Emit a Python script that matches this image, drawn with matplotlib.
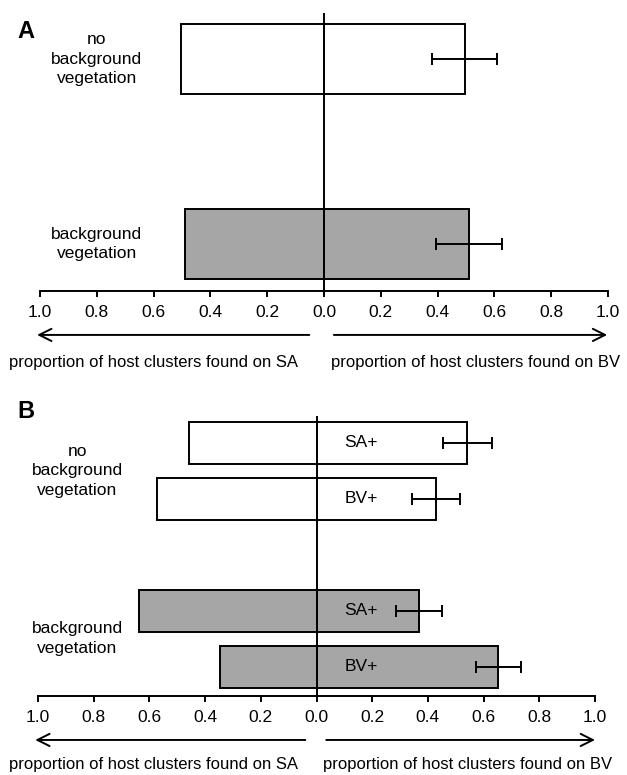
import numpy as np
import matplotlib

matplotlib.use("Agg")
import matplotlib.pyplot as plt

plt.rcParams["font.family"] = ["Liberation Sans", "DejaVu Sans"]

# panel A: proportion of host clusters on SA (left) / BV (right)
A_GROUPS = ["no\nbackground\nvegetation", "background\nvegetation"]
A_SA = [0.505, 0.49]
A_BV = [0.495, 0.51]
A_ERR = [0.115, 0.115]
A_FILL = ["white", "#a6a6a6"]

# panel B: split by SA+ / BV+ treatment
B_GROUPS = ["no\nbackground\nvegetation", "background\nvegetation"]
B_TREAT = ["SA+", "BV+", "SA+", "BV+"]
B_SA = [0.458, 0.572, 0.637, 0.348]
B_BV = [0.542, 0.43, 0.367, 0.653]
B_ERR = [0.088, 0.087, 0.083, 0.08]
B_FILL = ["white", "white", "#a6a6a6", "#a6a6a6"]

TICKS = np.arange(-1.0, 1.01, 0.2)
TICK_LABELS = [f"{abs(t):.1f}" for t in TICKS]
LEFT_LABEL = "proportion of host clusters found on SA"
RIGHT_LABEL = "proportion of host clusters found on BV"

W, H = 627, 775
fig = plt.figure(figsize=(W / 100, H / 100), dpi=100)


def px_axes(left, top, right, bottom):
    return fig.add_axes([left / W, 1 - bottom / H, (right - left) / W, (bottom - top) / H])


def style(ax, ylim):
    ax.set_xlim(-1, 1)
    ax.set_ylim(*ylim)
    ax.axvline(0, color="black", lw=1.4, zorder=4)
    ax.spines[["top", "right", "left"]].set_visible(False)
    ax.spines["bottom"].set_linewidth(1.4)
    ax.set_yticks([])
    ax.set_xticks(TICKS)
    ax.set_xticklabels(TICK_LABELS, fontsize=12.5)
    ax.tick_params(axis="x", direction="out", length=4, width=1.4, pad=6)


def arrows(ax, y, l_inner, r_inner, r_outer):
    kw = dict(arrowstyle="->", lw=1.4, color="black", mutation_scale=22)
    ax.annotate("", xy=(-1.02, y), xytext=(l_inner, y), xycoords=("data", "axes fraction"),
                arrowprops=kw, annotation_clip=False)
    ax.annotate("", xy=(r_outer, y), xytext=(r_inner, y), xycoords=("data", "axes fraction"),
                arrowprops=kw, annotation_clip=False)


def bars(ax, pos, sa, bv, err, fills, h):
    ax.barh(pos, [-v for v in sa], height=h, color=fills, edgecolor="black", lw=1.4, zorder=2)
    ax.barh(pos, bv, height=h, color=fills, edgecolor="black", lw=1.4, zorder=2)
    ax.errorbar(bv, pos, xerr=err, fmt="none", ecolor="black", elinewidth=1.4,
                capsize=4, capthick=1.4, zorder=5)


# ---- panel A
axA = px_axes(40, 13, 608, 291)
posA = [1, 0]
bars(axA, posA, A_SA, A_BV, A_ERR, A_FILL, 0.378)
style(axA, (-0.254, 1.249))
for p, g in zip(posA, A_GROUPS):
    axA.text(-0.8, p, g, ha="center", va="center", fontsize=12.5, linespacing=1.4)
arrows(axA, -0.158, -0.042, 0.025, 1.007)
fig.text(9 / W, 1 - 363 / H, LEFT_LABEL, ha="left", va="center", fontsize=12)
fig.text(331 / W, 1 - 363 / H, RIGHT_LABEL, ha="left", va="center", fontsize=12)
fig.text(17 / W, 1 - 32 / H, "A", ha="left", va="center", fontsize=17, fontweight="bold")

# ---- panel B
axB = px_axes(38, 416, 595, 696)
posB = [4, 3, 1, 0]
bars(axB, posB, B_SA, B_BV, B_ERR, B_FILL, 0.76)
style(axB, (-0.52, 4.48))
for p, t in zip(posB, B_TREAT):
    axB.text(0.1, p, t, ha="left", va="center", fontsize=12.5, zorder=6)
for p, g in zip([3.5, 0.5], B_GROUPS):
    axB.text(-0.858, p, g, ha="center", va="center", fontsize=12.5, linespacing=1.4)
arrows(axB, -0.157, -0.03, 0.025, 1.01)
fig.text(9 / W, 1 - 764 / H, LEFT_LABEL, ha="left", va="center", fontsize=12)
fig.text(323 / W, 1 - 764 / H, RIGHT_LABEL, ha="left", va="center", fontsize=12)
fig.text(17 / W, 1 - 412 / H, "B", ha="left", va="center", fontsize=17, fontweight="bold")

fig.savefig("out.png", dpi=100)
